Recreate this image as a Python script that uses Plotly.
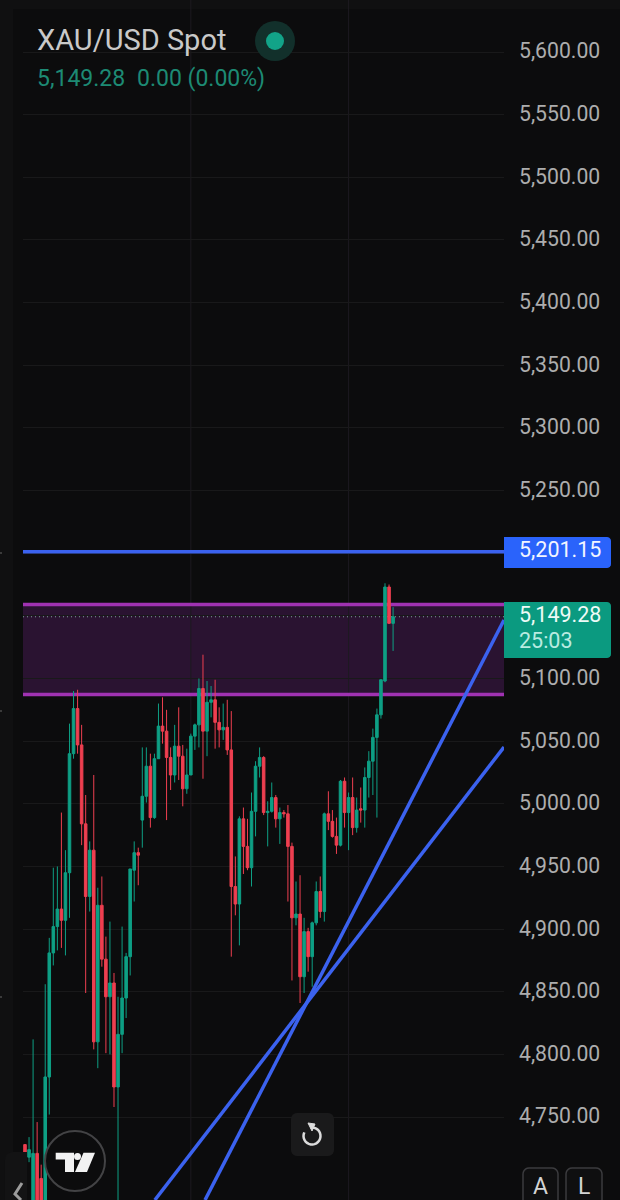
import numpy as np
import plotly.graph_objects as go

# ---------- data ----------
open_ = [4728,4718,4670,4721,4701,4675,4782,4881,4902,4916,4907,4945,5040,5076,5047,4984,4926,4963,4810,4919,
         4876,4846,4857,4774,4816,4845,4878,4947,4961,4987,5006,5030,4989,5036,5062,5058,5037,5023,5046,5038,
         5012,5023,5054,5063,5092,5058,5081,5083,5065,5059,5061,5043,4934,4920,4988,4966,4949,4994,5030,5037,
         4993,4994,5005,4988,4993,4992,4966,4909,4912,4862,4898,4878,4905,4930,4914,4992,4986,4974,4967,5018,
         4993,5005,4981,4996,4995,5021,5034,5053,5071,5098,5173,5144]
high  = [4728,4734,4812,4746,4712,4856,4893,4949,4950,4993,4963,5064,5090,5091,5063,5007,4970,5023,4933,4942,
         4894,4906,4865,4846,4902,4881,4948,4970,4965,5045,5045,5040,5040,5080,5085,5075,5045,5063,5077,5047,
         5044,5056,5064,5100,5119,5098,5094,5099,5077,5080,5083,5074,4958,4990,4997,4988,5009,5034,5045,5038,
         5002,5017,5007,4997,4995,4999,4969,4938,4943,4909,4901,4906,4938,4942,4993,5010,4995,4989,5019,5021,
         5009,5021,5005,5013,5029,5042,5060,5076,5099,5176,5175,5157]
low   = [4722,4714,4660,4660,4660,4660,4752,4871,4883,4885,4879,4909,5036,5040,4967,4849,4914,4804,4789,4870,
         4801,4800,4758,4660,4801,4829,4863,4922,4935,4965,5001,4981,4988,5036,5048,4987,5011,5017,5019,4998,
         5008,5023,5043,5045,5020,5038,5069,5044,5045,5051,5039,4878,4911,4887,4944,4947,4934,4974,5021,4991,
         4966,4993,4981,4968,4989,4922,4859,4903,4841,4849,4866,4854,4903,4909,4906,4979,4973,4960,4966,4981,
         4963,4975,4977,4985,4981,5005,5007,4989,5068,5097,5144,5122]
close = [4722,4724,4721,4675,4680,4782,4881,4902,4916,4907,4945,5040,5076,5047,4984,4926,4963,4810,4919,4876,
         4846,4857,4774,4816,4845,4878,4948,4961,4959,5006,5030,4989,5036,5062,5058,5037,5023,5046,5038,5012,
         5023,5054,5063,5092,5058,5081,5083,5065,5059,5061,5043,4934,4920,4988,4966,4949,4994,5030,5037,4993,
         4994,5005,4988,4993,4992,4966,4909,4912,4862,4898,4878,4905,4930,4914,4992,4986,4974,4967,5018,4993,
         5005,4981,4995,4995,5021,5034,5053,5071,5099,5173,5144,5149.28]
bar_index = list(range(len(open_)))

axis_prices = [5600,5550,5500,5450,5400,5350,5300,5250,5200,5150,5100,5050,5000,4950,4900,4850,4800,4750]
axis_labels = ["5,600.00","5,550.00","5,500.00","5,450.00","5,400.00","5,350.00","5,300.00","5,250.00","","",
               "5,100.00","5,050.00","5,000.00","4,950.00","4,900.00","4,850.00","4,800.00","4,750.00"]
time_grid = [41, 80]

resistance = 5201.15
zone_top = 5159.0
zone_bottom = 5087.2
last_price = 5149.28
trend_a_x = [44.5, 118.42]
trend_a_y = [4683.8, 5146.7]
trend_b_x = [32.1, 118.42]
trend_b_y = [4683.8, 5045.3]

# ---------- style ----------
BG = "#0c0c0d"
GRID = "#19191a"
UP = "#0e9f84"
DOWN = "#ee3f50"
BLUE = "#3b62ef"
PURPLE = "#a032b2"
W, H = 620, 1200
X0, X1 = 23, 504

px = lambda x: x / W
py = lambda y: 1 - y / H


def poly(points, close_path=True):
    s = "M " + " L ".join(f"{px(x):.5f},{py(y):.5f}" for x, y in points)
    return s + (" Z" if close_path else "")


def arc(cx, cy, r, a0, a1, n=24):
    return [(cx + r * np.cos(np.radians(a)), cy + r * np.sin(np.radians(a))) for a in np.linspace(a0, a1, n)]


def rrect(x0, y0, x1, y1, rl=4, rr=4):
    pts = []
    pts += arc(x0 + rl, y0 + rl, rl, 180, 270, 6) if rl else [(x0, y0)]
    pts += arc(x1 - rr, y0 + rr, rr, 270, 360, 6) if rr else [(x1, y0)]
    pts += arc(x1 - rr, y1 - rr, rr, 0, 90, 6) if rr else [(x1, y1)]
    pts += arc(x0 + rl, y1 - rl, rl, 90, 180, 6) if rl else [(x0, y1)]
    return poly(pts)


def pshape(path, fill="rgba(0,0,0,0)", line=None, lw=0, layer="above"):
    return dict(type="path", xref="paper", yref="paper", path=path, fillcolor=fill, layer=layer,
                line=dict(color=line or "rgba(0,0,0,0)", width=lw))


fig = go.Figure()
fig.add_trace(go.Candlestick(
    x=bar_index, open=open_, high=high, low=low, close=close,
    increasing=dict(line=dict(color=UP, width=1), fillcolor=UP),
    decreasing=dict(line=dict(color=DOWN, width=1), fillcolor=DOWN),
    whiskerwidth=0, hoverinfo="skip", showlegend=False))
for tx, ty in ((trend_a_x, trend_a_y), (trend_b_x, trend_b_y)):
    fig.add_trace(go.Scatter(x=tx, y=ty, mode="lines", line=dict(color=BLUE, width=3.5),
                             hoverinfo="skip", showlegend=False))

shapes = [
    # side strips
    dict(type="rect", xref="paper", yref="paper", x0=0, x1=px(13), y0=0, y1=1, fillcolor="#101011", line_width=0, layer="below"),
    dict(type="rect", xref="paper", yref="paper", x0=0, x1=1, y0=py(9), y1=1, fillcolor="#101011", line_width=0, layer="below"),
    # zone and levels
    dict(type="rect", xref="x domain", yref="y", x0=0, x1=1, y0=zone_bottom, y1=zone_top,
         fillcolor="#2a1331", line_width=0, layer="below"),
]
# vertical time grid, drawn under the purple borders
for tg in time_grid:
    shapes.append(dict(type="line", xref="x", yref="paper", x0=tg, x1=tg, y0=0, y1=1,
                       line=dict(color="#1d1a20", width=1), layer="below"))
shapes += [
    dict(type="line", xref="x domain", yref="y", x0=0, x1=1, y0=zone_top, y1=zone_top,
         line=dict(color=PURPLE, width=3.5), layer="below"),
    dict(type="line", xref="x domain", yref="y", x0=0, x1=1, y0=zone_bottom, y1=zone_bottom,
         line=dict(color=PURPLE, width=3.5), layer="below"),
    dict(type="line", xref="x domain", yref="y", x0=0, x1=1, y0=last_price, y1=last_price,
         line=dict(color="#7f9f99", width=1, dash="1px,3px"), layer="below"),
    dict(type="line", xref="x domain", yref="y", x0=0, x1=1, y0=resistance, y1=resistance,
         line=dict(color=BLUE, width=3.5), layer="above"),
    # price tags
    pshape(rrect(504, 537, 611, 568, 0, 4), fill="#2a63fb"),
    pshape(rrect(504, 602, 611, 658, 0, 4), fill="#0b9a80"),
    # status dot
    dict(type="circle", xref="paper", yref="paper", x0=px(255), x1=px(295), y0=py(61), y1=py(21), fillcolor="#12302b", line_width=0),
    dict(type="circle", xref="paper", yref="paper", x0=px(266), x1=px(284), y0=py(50), y1=py(32), fillcolor="#12a388", line_width=0),
    # bottom-left tab and chevron
    pshape(rrect(5, 1152, 27, 1230, 8, 0), fill="#131314"),
    pshape(poly([(22, 1183), (15, 1194), (21, 1200)], False), line="#9c9c9c", lw=3),
    # logo
    dict(type="circle", xref="paper", yref="paper", x0=px(45), x1=px(105), y0=py(1191), y1=py(1131),
         fillcolor=BG, line=dict(color="#434345", width=2)),
    pshape(poly([(55.7, 1152.7), (74, 1152.7), (74, 1172), (65, 1172), (65, 1159.5), (55.7, 1159.5)]), fill="#f2f2f2"),
    dict(type="circle", xref="paper", yref="paper", x0=px(74), x1=px(81), y0=py(1160), y1=py(1153), fillcolor="#f2f2f2", line_width=0),
    pshape(poly([(83.5, 1152.7), (95, 1152.7), (87, 1172), (75, 1172)]), fill="#f2f2f2"),
    # reset button
    pshape(rrect(291, 1113, 334, 1156, 6, 6), fill="#1a1a1b"),
    pshape(poly(arc(312, 1136, 8.5, -100, 205), False), line="#dcdcdc", lw=2.5),
    pshape(poly([(308, 1123), (315, 1124), (312, 1131)]), fill="#dcdcdc", line="#dcdcdc", lw=1),
    # A / L buttons
    pshape(rrect(523, 1168, 558, 1215, 6, 6), fill="#0f0f10", line="#3b3b3e", lw=1.5),
    pshape(rrect(566, 1168, 602, 1215, 6, 6), fill="#0f0f10", line="#3b3b3e", lw=1.5),
]
# small marks at the very left edge
for yy in (553, 711, 997):
    shapes.append(dict(type="line", xref="paper", yref="paper", x0=0, x1=px(2), y0=py(yy), y1=py(yy),
                       line=dict(color="#4a4a4a", width=1.5)))


def label(x, y, text, size, color, anchor="left"):
    return dict(xref="paper", yref="paper", x=px(x), y=py(y), text=text, showarrow=False, xanchor=anchor,
                yanchor="middle", borderpad=0, font=dict(family="Roboto", size=size, color=color))


annotations = [
    label(36, 40, "XAU/USD Spot", 29, "#c9c9c9"),
    label(36, 79, "5,149.28", 23, "#1d8a74"),
    label(136, 79, "0.00 (0.00%)", 23, "#1d8a74"),
    label(518, 549, "5,201.15", 21.5, "#f2f5ff"),
    label(518, 614, "5,149.28", 21.5, "#eefaf7"),
    label(518, 640, "25:03", 21.5, "#b9ebe0"),
    label(540.5, 1186, "A", 23, "#d4d4d4", "center"),
    label(584, 1186, "L", 23, "#d4d4d4", "center"),
]

fig.update_layout(
    width=W, height=H, margin=dict(l=0, r=0, t=0, b=0),
    paper_bgcolor=BG, plot_bgcolor=BG, boxgap=0.1, showlegend=False,
    shapes=shapes, annotations=annotations,
    xaxis=dict(domain=[px(X0), px(X1)], range=[-0.494, 118.42], rangeslider=dict(visible=False),
               showticklabels=False, ticks="", showgrid=False, zeroline=False, showline=False, fixedrange=True),
    yaxis=dict(domain=[0, 1], range=[4683.8, 5641.5], side="right", anchor="x",
               tickmode="array", tickvals=axis_prices, ticktext=axis_labels, ticks="",
               ticklabelstandoff=14, ticklabelshift=-1, tickfont=dict(family="Roboto", size=21.2, color="#adadad"),
               showgrid=True, gridcolor=GRID, gridwidth=1, zeroline=False, showline=False, fixedrange=True),
)

fig.write_html("out.html", config=dict(displayModeBar=False),
               post_script="document.body.style.margin='0';document.body.style.background='#0c0c0d';document.documentElement.style.overflow='hidden';")
